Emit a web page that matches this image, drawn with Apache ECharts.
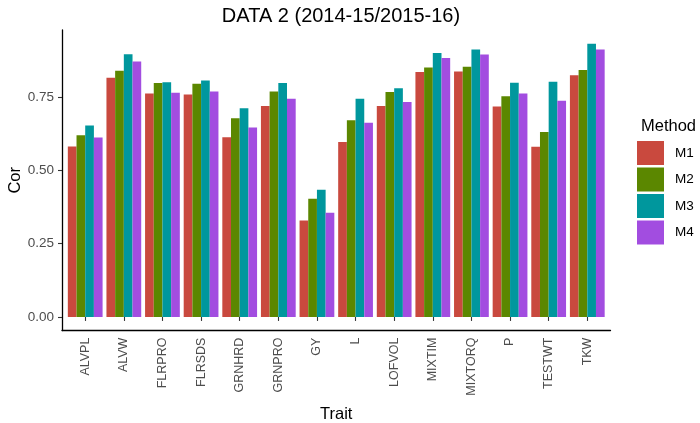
<!DOCTYPE html>
<html>
<head>
<meta charset="utf-8">
<script src="https://cdn.jsdelivr.net/npm/echarts@6/dist/echarts.min.js"></script>
<style>html,body{margin:0;padding:0;background:#fff}#c{width:700px;height:423px}</style>
</head>
<body>
<div id="c"></div>
<script>
var traits = ["ALVPL","ALVW","FLRPRO","FLRSDS","GRNHRD","GRNPRO","GY","L","LOFVOL","MIXTIM","MIXTORQ","P","TESTWT","TKW"];
var methods = ["M1","M2","M3","M4"];
var m1 = [0.581,0.816,0.762,0.759,0.613,0.719,0.329,0.597,0.719,0.835,0.837,0.718,0.580,0.824];
var m2 = [0.620,0.840,0.798,0.795,0.678,0.769,0.403,0.671,0.767,0.851,0.853,0.753,0.631,0.842];
var m3 = [0.653,0.896,0.800,0.806,0.712,0.798,0.434,0.744,0.780,0.900,0.912,0.799,0.802,0.932];
var m4 = [0.612,0.871,0.765,0.769,0.646,0.744,0.355,0.662,0.733,0.883,0.895,0.762,0.737,0.912];
var yTicks = [0, 0.25, 0.5, 0.75];
var yTickLabels = ["0.00","0.25","0.50","0.75"];
var colors = ["#C9493E","#5B8700","#00979D","#A24DE0"];

var seriesValues = [m1, m2, m3, m4];
var yMin = -0.0466, yMax = 0.9786;
var FONT = "Liberation Sans, Arial, sans-serif";

var chart = echarts.init(document.getElementById('c'), null, {renderer: 'canvas'});
var option = {
  animation: false,
  backgroundColor: '#fff',
  textStyle: {fontFamily: FONT},
  title: [
    {text: 'DATA 2 (2014-15/2015-16)', left: 336, top: 1, textAlign: 'center',
     textStyle: {fontFamily: FONT, fontSize: 20, fontWeight: 'normal', color: '#000'}},
    {text: 'Method', left: 636, top: 113,
     textStyle: {fontFamily: FONT, fontSize: 16.5, fontWeight: 'normal', color: '#000'}}
  ],
  legend: {
    orient: 'vertical', left: 637, top: 141, padding: 0,
    itemWidth: 27, itemHeight: 24, itemGap: 2.5, icon: 'rect',
    selectedMode: false,
    textStyle: {fontFamily: FONT, fontSize: 13.5, color: '#000', padding: [0,0,0,6]},
    data: methods
  },
  grid: [
    {left: 62, right: 89.5, top: 30, bottom: 92.4, containLabel: false, outerBoundsMode: 'none'},
    {left: 65.9, right: 93.4, top: 30, bottom: 92.4, containLabel: false, outerBoundsMode: 'none'}
  ],
  xAxis: [
    {type: 'value', gridIndex: 0, min: 0, max: 1, show: true,
     axisLine: {show: true, onZero: false, lineStyle: {color: '#000', width: 1.3}},
     axisTick: {show: false}, axisLabel: {show: false}, splitLine: {show: false}},
    {type: 'category', gridIndex: 1, data: traits,
     axisLine: {show: false},
     axisTick: {show: true, alignWithLabel: true, length: 4, lineStyle: {color: '#333', width: 1.1}},
     axisLabel: {rotate: 90, margin: 7, fontSize: 12.5, color: '#4D4D4D', fontFamily: FONT, interval: 0},
     name: 'Trait', nameLocation: 'middle', nameGap: 75, nameMoveOverlap: false,
     nameTextStyle: {fontSize: 16.5, color: '#000', fontFamily: FONT}}
  ],
  yAxis: [
    {type: 'value', gridIndex: 0, min: yMin, max: yMax,
     axisLine: {show: true, lineStyle: {color: '#000', width: 1.3}},
     axisTick: {show: true, length: 4, customValues: yTicks, lineStyle: {color: '#333', width: 1.1}},
     axisLabel: {customValues: yTicks, margin: 8, fontSize: 13.5, color: '#4D4D4D', fontFamily: FONT,
       formatter: function (v) { var i = yTicks.indexOf(Math.round(v*100)/100); return i >= 0 ? yTickLabels[i] : ''; }},
     splitLine: {show: false},
     name: 'Cor', nameLocation: 'middle', nameGap: 38, nameRotate: 90, nameMoveOverlap: false,
     nameTextStyle: {fontSize: 16.5, color: '#000', fontFamily: FONT}},
    {type: 'value', gridIndex: 1, min: yMin, max: yMax, show: false, splitLine: {show: false}}
  ],
  series: methods.map(function (m, i) {
    return {
      name: m, type: 'bar', xAxisIndex: 1, yAxisIndex: 1,
      data: seriesValues[i], barGap: '0%', barCategoryGap: '10%',
      itemStyle: {color: colors[i]}
    };
  })
};
chart.setOption(option);
</script>
</body>
</html>
